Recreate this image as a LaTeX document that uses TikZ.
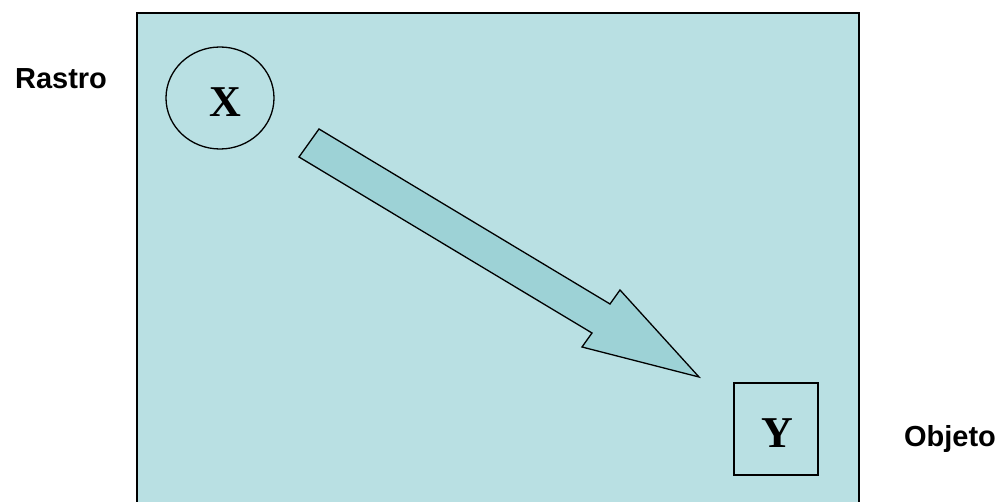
\documentclass[tikz,border=0pt]{standalone}
\usepackage{fontspec}
\setmainfont{Liberation Serif}
\setsansfont{Liberation Sans}
\usetikzlibrary{positioning,calc}
\definecolor{panelblue}{RGB}{185,224,227}
\definecolor{arrowblue}{RGB}{157,210,214}
\tikzset{
  panel/.style     = {draw, line width=1.6pt, fill=panelblue},
  varcircle/.style = {draw, ellipse, line width=1.3pt, minimum width=108pt,
                      minimum height=102pt, inner sep=0pt,
                      font=\fontsize{44}{44}\selectfont\bfseries},
  varbox/.style    = {draw, rectangle, line width=1.3pt, minimum width=84pt,
                      minimum height=92pt, inner sep=0pt,
                      font=\fontsize{44}{44}\selectfont\bfseries},
  sidelabel/.style = {font=\sffamily\bfseries\fontsize{29}{29}\selectfont},
  blockarrow/.style= {draw, line width=1.3pt, fill=arrowblue, line join=miter}
}
\usetikzlibrary{shapes.geometric}
\begin{document}
\begin{tikzpicture}[x=1pt,y=-1pt]
  \useasboundingbox (0,0) rectangle (1008,502);
  \clip (0,0) rectangle (1008,502);

  % Background panel (bottom edge runs off the picture).
  \draw[panel] (137,13) rectangle (859,520);

  % Raster cell and object.
  \node[varcircle] (X) at (220,98) {};
  \node[varbox]    (Y) at (776,429) {};
  \node[font=\fontsize{44}{44}\selectfont\bfseries] (xlab) at (225,102) {X};
  \node[font=\fontsize{44}{44}\selectfont\bfseries] (ylab) at (777,433) {Y};

  % Side labels.
  \node[sidelabel] (rastro) at (61,79)  {Rastro};
  \node[sidelabel] (objeto) at (950,439) {Objeto};

  % Block arrow from raster to object.
  \draw[blockarrow] (299,157) -- (319,129) -- (610,304) -- (620,290)
    -- (699,377) -- (582,347) -- (592,333) -- cycle;
\end{tikzpicture}
\end{document}
